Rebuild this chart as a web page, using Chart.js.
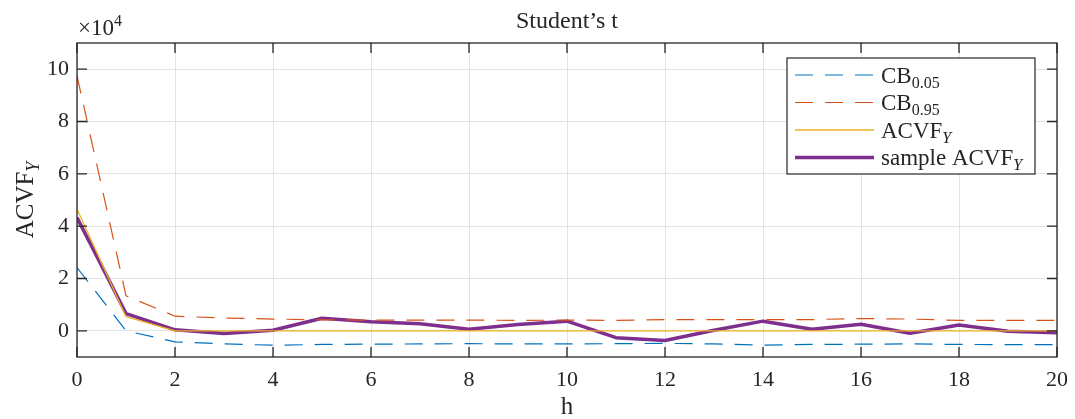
<!DOCTYPE html>
<html>
<head>
<meta charset="utf-8">
<script src="https://cdn.jsdelivr.net/npm/chart.js@4.4.0/dist/chart.umd.min.js"></script>
<style>
html, body { margin: 0; padding: 0; background: #fff; }
</style>
</head>
<body>
<canvas id="acvfChart" width="1075" height="419"></canvas>
<script>
// lags h
var lags = [0, 1, 2, 3, 4, 5, 6, 7, 8, 9, 10, 11, 12, 13, 14, 15, 16, 17, 18, 19, 20];

// confidence bounds
var cb05 = [24200, 0, -4200, -5000, -5500, -5200, -5100, -5000, -4900, -5000, -5000,
            -4900, -4800, -5000, -5500, -5200, -5100, -5000, -5200, -5300, -5300];
var cb95 = [97500, 13400, 5600, 4900, 4500, 4200, 4100, 4100, 4100, 4000, 4100,
            4000, 4300, 4300, 4300, 4300, 4700, 4500, 4000, 4000, 4000];
var acvfY = [46600, 5400, 0, 0, 0, 0, 0, 0, 0, 0, 0, 0, 0, 0, 0, 0, 0, 0, 0, 0, 0];
var sampleAcvf = [43300, 6600, 400, -1000, 200, 4800, 3500, 2700, 600, 2400, 3700,
                  -2600, -3700, 200, 3700, 600, 2500, -900, 2200, -200, -700];

var seriesNames = ["CB_0.05", "CB_0.95", "ACVF_Y", "sample ACVF_Y"];
var yTicks = [0, 20000, 40000, 60000, 80000, 100000];
var xTicks = [0, 2, 4, 6, 8, 10, 12, 14, 16, 18, 20];

var FONT = "'Liberation Serif', 'Times New Roman', serif";
var INK = "#262626";

function toPoints(arr) {
    var pts = [];
    for (var i = 0; i < lags.length; i++) {
        pts.push({ x: lags[i], y: arr[i] });
    }
    return pts;
}

// draws text with simple _sub or ^sup part (a single letter sub is italic)
function drawRich(ctx, text, x, y, size, align) {
    var main = text, extra = "", kind = "";
    var k = text.indexOf("_");
    var s = text.indexOf("^");
    if (k >= 0) { main = text.slice(0, k); extra = text.slice(k + 1); kind = "sub"; }
    else if (s >= 0) { main = text.slice(0, s); extra = text.slice(s + 1); kind = "sup"; }
    var small = Math.round(size * 0.7);
    var italic = /^[A-Za-z]$/.test(extra) ? "italic " : "";
    ctx.font = size + "px " + FONT;
    var w1 = ctx.measureText(main).width;
    ctx.font = italic + small + "px " + FONT;
    var w2 = extra ? ctx.measureText(extra).width : 0;
    var total = w1 + w2;
    var x0 = x;
    if (align === "center") x0 = x - total / 2;
    if (align === "right") x0 = x - total;
    ctx.textAlign = "left";
    ctx.textBaseline = "alphabetic";
    ctx.font = size + "px " + FONT;
    ctx.fillText(main, x0, y);
    if (extra) {
        ctx.font = italic + small + "px " + FONT;
        var dy = kind === "sub" ? size * 0.22 : -size * 0.4;
        ctx.fillText(extra, x0 + w1, y + dy);
    }
}

var matlabLook = {
    id: "matlabLook",
    afterDatasetsDraw: function (chart) {
        var ctx = chart.ctx;
        var a = chart.chartArea;
        var xs = chart.scales.x, ys = chart.scales.y;
        ctx.save();
        ctx.strokeStyle = INK;
        ctx.lineWidth = 1.3;
        ctx.setLineDash([]);
        ctx.strokeRect(a.left, a.top, a.right - a.left, a.bottom - a.top);
        // inward tick marks on all four sides
        ctx.beginPath();
        for (var i = 0; i < xTicks.length; i++) {
            var px = xs.getPixelForValue(xTicks[i]);
            ctx.moveTo(px, a.bottom); ctx.lineTo(px, a.bottom - 10);
            ctx.moveTo(px, a.top); ctx.lineTo(px, a.top + 10);
        }
        for (var j = 0; j < yTicks.length; j++) {
            var py = ys.getPixelForValue(yTicks[j]);
            ctx.moveTo(a.left, py); ctx.lineTo(a.left + 10, py);
            ctx.moveTo(a.right, py); ctx.lineTo(a.right - 10, py);
        }
        ctx.stroke();
        ctx.restore();
    },
    afterDraw: function (chart) {
        var ctx = chart.ctx;
        var a = chart.chartArea;
        var cx = (a.left + a.right) / 2;
        ctx.save();
        ctx.fillStyle = INK;
        // title, axis labels, exponent
        drawRich(ctx, "Student\u2019s t", cx, 28, 24, "center");
        drawRich(ctx, "h", cx, 414, 25, "center");
        ctx.save();
        ctx.translate(33, (a.top + a.bottom) / 2);
        ctx.rotate(-Math.PI / 2);
        drawRich(ctx, "ACVF_Y", 0, 0, 25, "center");
        ctx.restore();
        drawRich(ctx, "\u00d710^4", a.left + 1, 35, 23, "left");

        // legend
        var lx = 787, ly = 58, lw = 248, lh = 116;
        ctx.fillStyle = "#fff";
        ctx.fillRect(lx, ly, lw, lh);
        ctx.strokeStyle = INK;
        ctx.lineWidth = 1.2;
        ctx.strokeRect(lx, ly, lw, lh);
        var ds = chart.data.datasets;
        for (var i = 0; i < ds.length; i++) {
            var ry = 75 + i * 27.5;
            ctx.beginPath();
            ctx.strokeStyle = ds[i].borderColor;
            ctx.lineWidth = ds[i].borderWidth;
            ctx.setLineDash(ds[i].borderDash || []);
            ctx.moveTo(795, ry);
            ctx.lineTo(874, ry);
            ctx.stroke();
            ctx.setLineDash([]);
            ctx.fillStyle = INK;
            drawRich(ctx, ds[i].label, 881, ry + 7.5, 23, "left");
        }
        ctx.restore();
    }
};

var ctx = document.getElementById("acvfChart").getContext("2d");
var acvfChart = new Chart(ctx, {
    type: "line",
    data: {
        datasets: [
            {
                label: seriesNames[0],
                data: toPoints(cb05),
                borderColor: "#0072BD",
                borderWidth: 1.2,
                borderDash: [18, 12],
            },
            {
                label: seriesNames[1],
                data: toPoints(cb95),
                borderColor: "#D95319",
                borderWidth: 1.2,
                borderDash: [18, 12],
            },
            {
                label: seriesNames[2],
                data: toPoints(acvfY),
                borderColor: "#EDB120",
                borderWidth: 1.3,
            },
            {
                label: seriesNames[3],
                data: toPoints(sampleAcvf),
                borderColor: "#7E2F8E",
                borderWidth: 3.5,
            },
        ],
    },
    options: {
        responsive: false,
        animation: false,
        devicePixelRatio: 1,
        elements: {
            point: { radius: 0, hoverRadius: 0 },
            line: { tension: 0, fill: false, borderCapStyle: "butt", borderJoinStyle: "round" },
        },
        layout: { padding: { top: 43, right: 18, left: 0, bottom: 0 } },
        plugins: {
            legend: { display: false },
            title: { display: false },
            tooltip: { enabled: false },
        },
        scales: {
            x: {
                type: "linear",
                min: 0,
                max: 20,
                afterBuildTicks: function (scale) {
                    scale.ticks = xTicks.map(function (v) { return { value: v }; });
                },
                afterFit: function (scale) {
                    scale.height = 62;
                    scale.paddingLeft = 0;
                    scale.paddingRight = 0;
                },
                grid: { color: "#e3e3e3", lineWidth: 1, drawTicks: false },
                border: { display: false },
                ticks: {
                    color: INK,
                    padding: 10,
                    maxRotation: 0,
                    font: { family: FONT, size: 22 },
                    callback: function (v) { return v; },
                },
            },
            y: {
                min: -10000,
                max: 110000,
                afterBuildTicks: function (scale) {
                    scale.ticks = yTicks.map(function (v) { return { value: v }; });
                },
                afterFit: function (scale) {
                    scale.width = 77;
                    scale.paddingTop = 0;
                    scale.paddingBottom = 0;
                },
                grid: { color: "#e3e3e3", lineWidth: 1, drawTicks: false },
                border: { display: false },
                ticks: {
                    color: INK,
                    padding: 8,
                    font: { family: FONT, size: 22 },
                    callback: function (v) { return v / 10000; },
                },
            },
        },
    },
    plugins: [matlabLook],
});
</script>
</body>
</html>
